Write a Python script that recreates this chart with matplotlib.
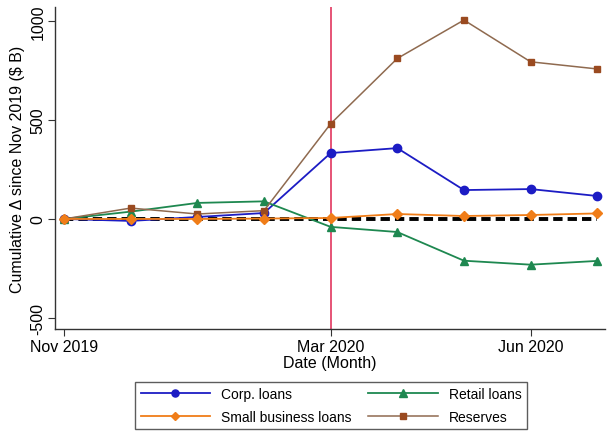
import matplotlib
matplotlib.use('Agg')
import matplotlib.pyplot as plt

plt.rcParams['font.family'] = ['Liberation Sans', 'DejaVu Sans']

# months since Nov 2019 (Nov 2019 .. Jul 2020)
months = [0, 1, 2, 3, 4, 5, 6, 7, 8]
tick_pos = [0, 4, 7]
tick_labels = ['Nov 2019', 'Mar 2020', 'Jun 2020']
event_month = 4

corp_loans = [0, -10, 10, 30, 333, 358, 146, 151, 116]
retail_loans = [0, 37, 81, 89, -40, -66, -211, -231, -212]
small_business = [0, 0, 0, 2, 5, 25, 15, 20, 28]
reserves = [0, 55, 25, 42, 481, 811, 1005, 794, 758]

fig = plt.figure(figsize=(6.08, 4.35), dpi=100)
ax = fig.add_axes([0.0905, 0.2414, 0.905, 0.7402])

ax.axvline(event_month, color='#e2365f', lw=1.2, zorder=1)
ax.plot([months[0], months[-1]], [0, 0], color='black', lw=2.8, ls=(0, (2.4, 1.3)), zorder=2)

ax.plot(months, corp_loans, color='#1c1cc4', lw=1.3, marker='o', ms=6, label='Corp. loans', zorder=3)
ax.plot(months, retail_loans, color='#1e8850', lw=1.3, marker='^', ms=6, label='Retail loans', zorder=3)
ax.plot(months, small_business, color='#f07d18', lw=1.3, marker='D', ms=5, label='Small business loans', zorder=4)
ax.plot(months, reserves, color='#8f6a4f', lw=1.1, marker='s', ms=5, mfc='#9a4a20', mec='#9a4a20',
        label='Reserves', zorder=3)

ax.set_xlim(-0.135, 8.12)
ax.set_ylim(-556, 1071)
ax.set_xticks(tick_pos)
ax.set_xticklabels(tick_labels, fontsize=11.5)
ax.set_yticks([-500, 0, 500, 1000])
ax.set_yticklabels(['-500', '0', '500', '1000'], fontsize=11.5, rotation=90, va='center')
ax.set_xlabel('Date (Month)', fontsize=11.5, labelpad=1)
ax.set_ylabel('Cumulative Δ since Nov 2019 (\\$ B)', fontsize=11.5, labelpad=4)

for s in ['top', 'right']:
  ax.spines[s].set_visible(False)
for s in ['left', 'bottom']:
  ax.spines[s].set_color('#333333')
  ax.spines[s].set_linewidth(1.0)
ax.tick_params(length=5, width=0.8, color='#333333', pad=2)

handles, labels = ax.get_legend_handles_labels()
order = [0, 2, 1, 3]
leg = fig.legend([handles[i] for i in order], [labels[i] for i in order],
                 loc='center', bbox_to_anchor=(0.222, 0.007, 0.645, 0.117), mode='expand',
                 ncol=2, fontsize=10, frameon=True, fancybox=False, edgecolor='#333333',
                 handlelength=5, markerscale=0.85, borderaxespad=0, labelspacing=0.6,
                 columnspacing=2)
leg.get_frame().set_linewidth(1.0)

plt.savefig('out.png', dpi=100)
